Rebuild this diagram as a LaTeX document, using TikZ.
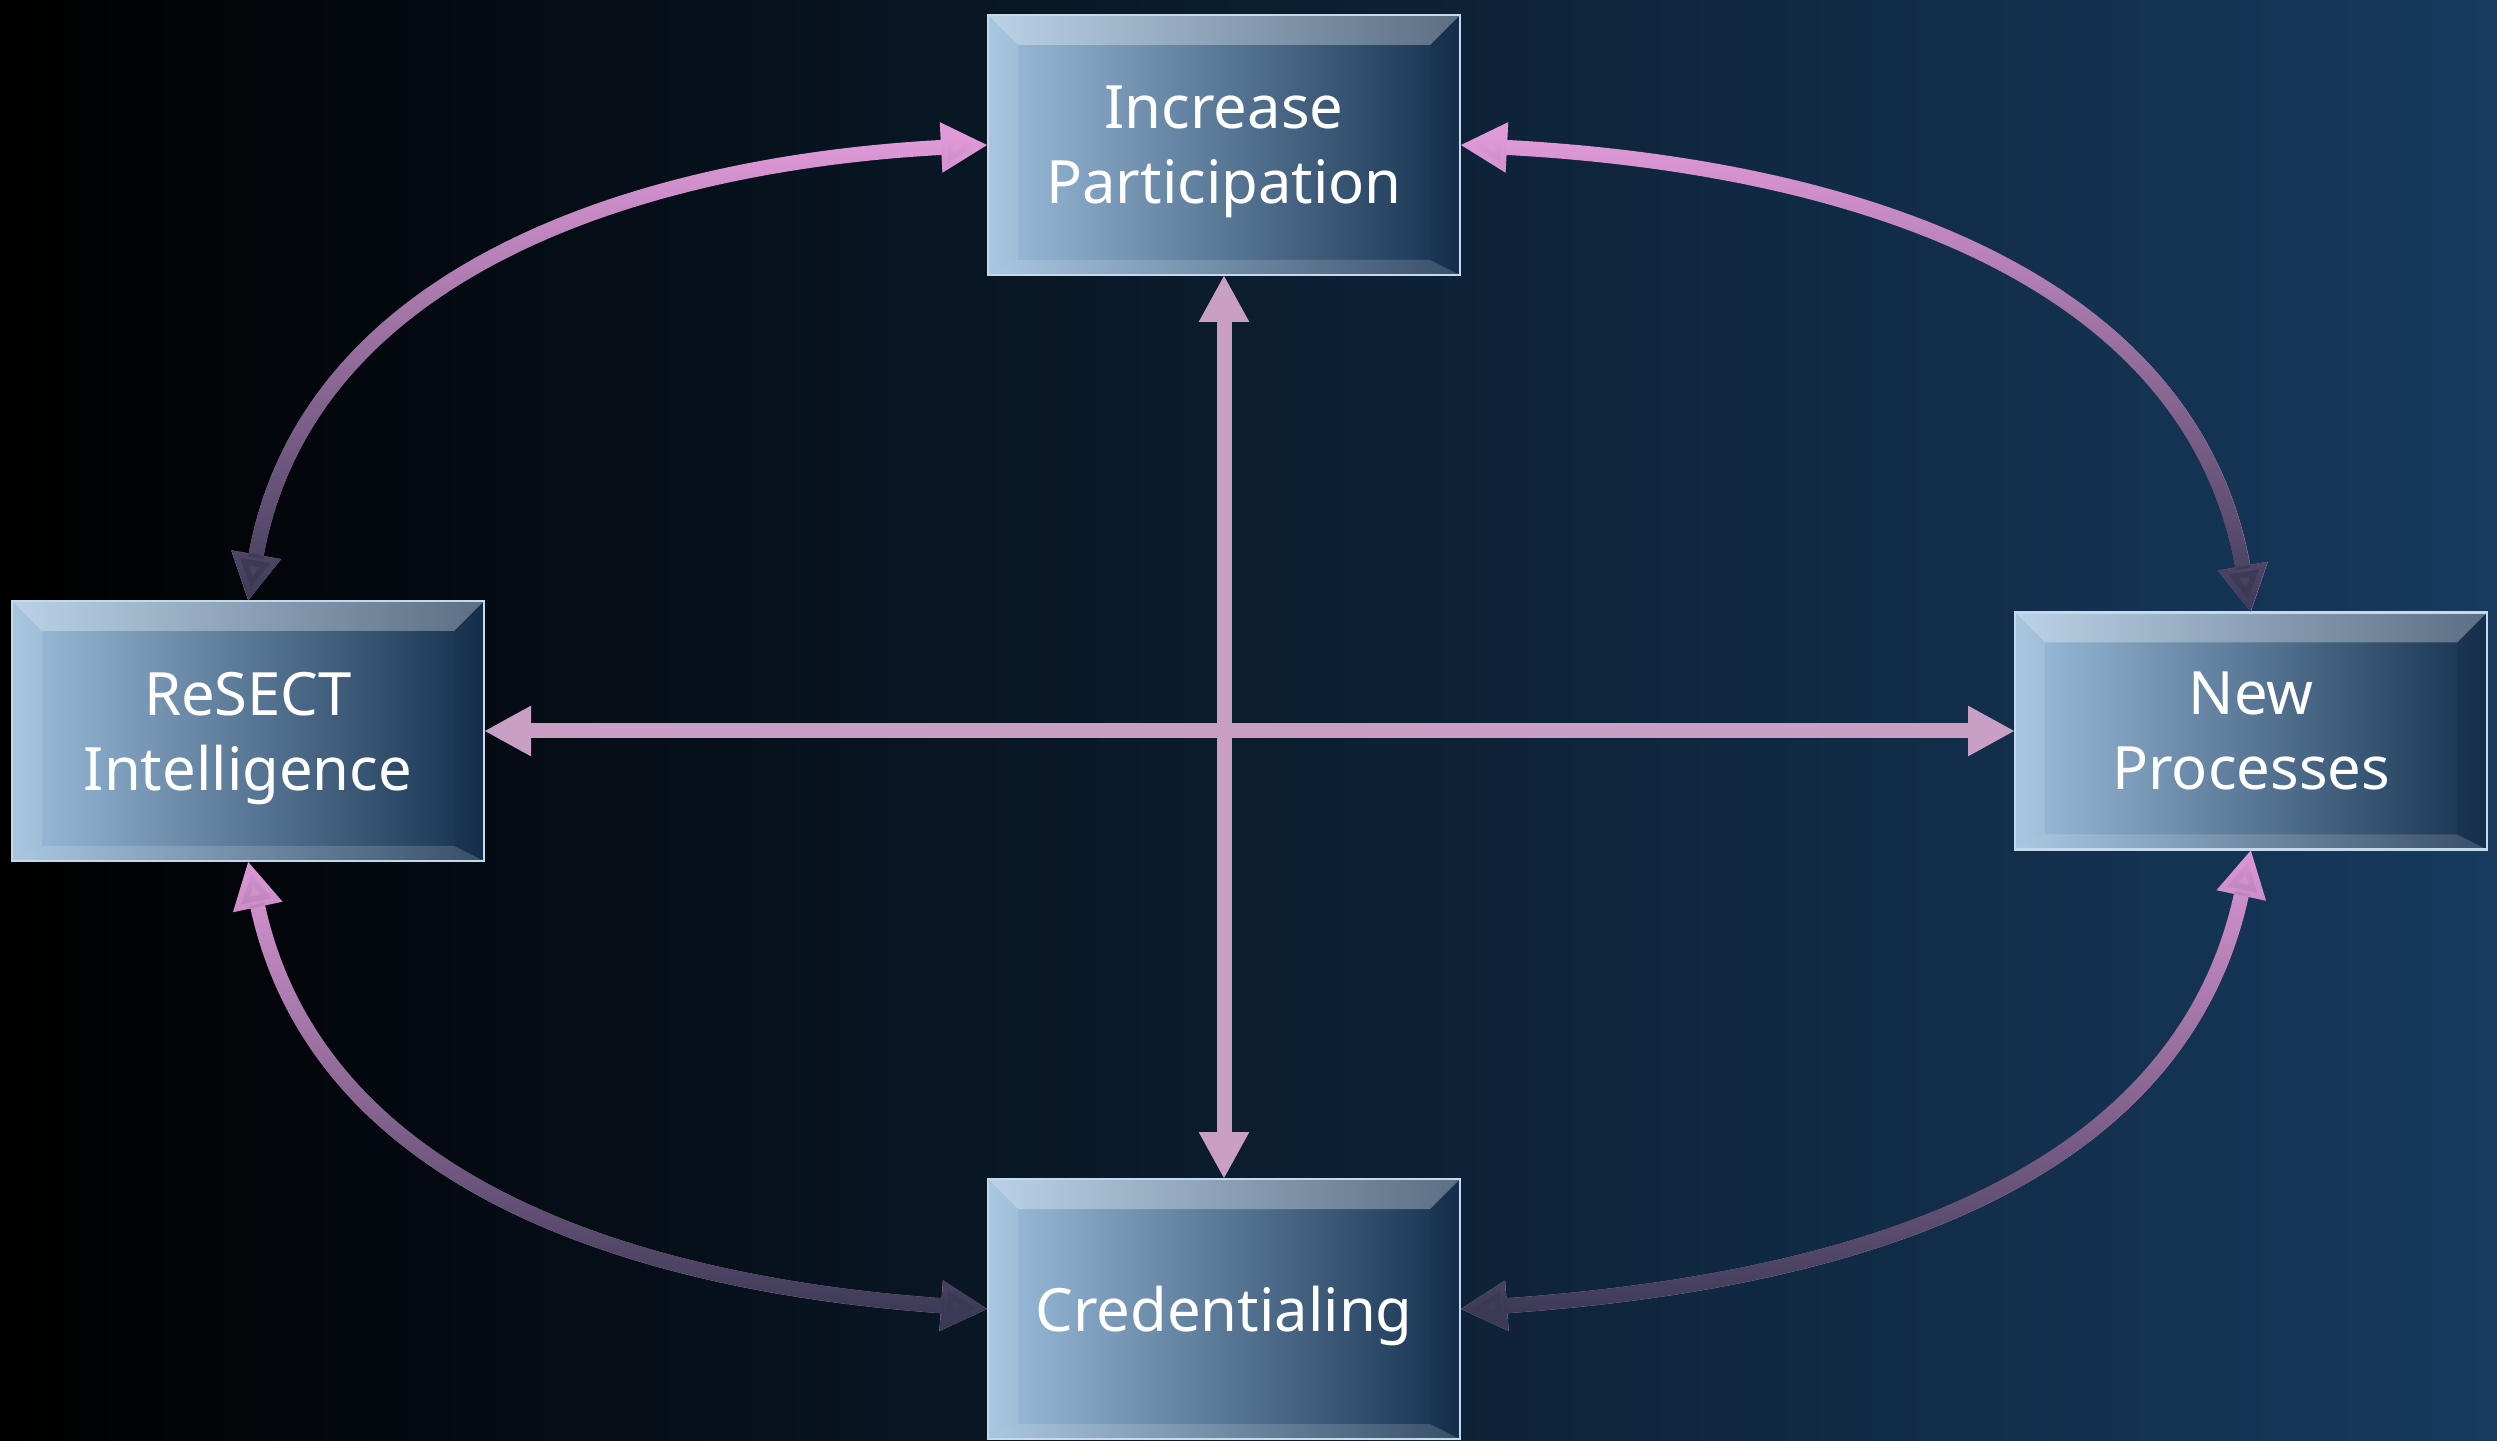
\documentclass[tikz,border=0pt]{standalone}
\usepackage{fontspec}
\setmainfont{Noto Sans}
\usepackage{tikz}
\usetikzlibrary{calc,positioning,arrows.meta,fadings}
\definecolor{bgright}{HTML}{173A5E}
\definecolor{boxlight}{HTML}{9DBFDD}
\definecolor{boxdark}{HTML}{15304F}
\definecolor{arcpink}{HTML}{E19AD9}
\definecolor{arcdark}{HTML}{3B3A55}
\definecolor{barpink}{HTML}{C99FC6}
\tikzfading[name=fade down, top color=transparent!100, middle color=transparent!82, bottom color=transparent!0]
\tikzset{
  link/.style={{Triangle[length=4.7mm, width=4.7mm]}-{Triangle[length=4.7mm, width=4.7mm]}, line width=1.5mm},
  arcline/.style={link, arcpink},
  arcshade/.style={link, arcdark, path fading=fade down, fit fading=true},
  barline/.style={link, barpink},
  stagebox/.style={minimum width=4.72cm, minimum height=2.6cm, outer sep=0pt,
    left color=boxlight, right color=boxdark, draw=boxlight!60!white, line width=0.6pt,
    text=white, align=center, text depth=-2pt, font=\fontsize{17}{21.3}\selectfont,
    path picture={
      \path (path picture bounding box.north west) coordinate (bnw)
            (path picture bounding box.south east) coordinate (bse);
      \fill[white, opacity=.3] (bnw) -- (bnw -| bse) -- ++(-3mm,-3mm) -- ($(bnw)+(3mm,-3mm)$) -- cycle;
      \fill[white, opacity=.12] (bnw) -- ($(bnw)+(3mm,-3mm)$) -- ($(bse -| bnw)+(3mm,1.5mm)$) -- (bse -| bnw) -- cycle;
      \fill[black, opacity=.06] (bnw -| bse) -- (bse) -- ++(-3mm,1.5mm) -- ($(bnw -| bse)+(-3mm,-3mm)$) -- cycle;
      \fill[white, opacity=.15] (bse -| bnw) -- (bse) -- ++(-3mm,1.5mm) -- ($(bse -| bnw)+(3mm,1.5mm)$) -- cycle;
    }}
}
\begin{document}
\begin{tikzpicture}
  \useasboundingbox (0,0) rectangle (24.97,14.4);
  \shade[left color=black, right color=bgright] (0,0) rectangle (24.97,14.4);

  \node[stagebox] (part) at (12.24,12.95) {Increase\\Participation};
  \node[stagebox] (resect) at (2.48,7.09) {ReSECT\\Intelligence};
  \node[stagebox, minimum height=2.37cm] (proc) at (22.51,7.09) {New\\Processes};
  \node[stagebox] (cred) at (12.24,1.31) {Credentialing};

  % curved links, pink on top fading to dark below
  \draw[arcline] (part.west) to[out=183, in=80] (resect.north);
  \draw[arcshade] (part.west) to[out=183, in=80] (resect.north);
  \draw[arcline] (part.east) to[out=-3, in=100] (proc.north);
  \draw[arcshade] (part.east) to[out=-3, in=100] (proc.north);
  \draw[arcline] (resect.south) to[out=-78, in=176] (cred.west);
  \draw[arcshade] (resect.south) to[out=-78, in=176] (cred.west);
  \draw[arcline] (proc.south) to[out=-102, in=4] (cred.east);
  \draw[arcshade] (proc.south) to[out=-102, in=4] (cred.east);

  % straight links
  \draw[barline] (resect) -- (proc);
  \draw[barline] (part) -- (cred);
\end{tikzpicture}
\end{document}
